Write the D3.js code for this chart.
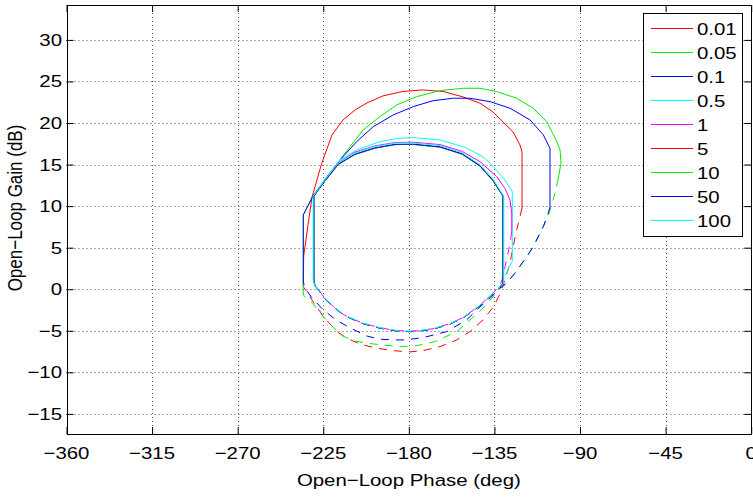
<!DOCTYPE html>
<html><head><meta charset="utf-8">
<script src="https://cdn.jsdelivr.net/npm/d3@7"></script>
<style>body{margin:0;background:#fff;overflow:hidden} text{font-family:"Liberation Sans",Arial,Helvetica,sans-serif;fill:#000}</style>
</head><body><svg id="c" width="753" height="497"></svg>
<script>
// ---------- data ----------
const legendLabels = ["0.01","0.05","0.1","0.5","1","5","10","50","100"];
const xTicks = [-360,-315,-270,-225,-180,-135,-90,-45,0];
const yTicks = [-15,-10,-5,0,5,10,15,20,25,30];
const xLabel = "Open\u2212Loop Phase (deg)";
const yLabel = "Open\u2212Loop Gain (dB)";

// each point: [phase (deg), gain (dB)]
const s001Solid = [[-235.5,0.3],[-235.3,4.0],[-233.0,7.74],[-230.9,11.1],[-225.8,15.16],[-220.4,18.57],[-214.6,20.37],[-208.3,21.57],[-202.0,22.42],[-193.6,23.26],[-183.1,23.8],[-172.6,23.98],[-162.1,23.8],[-151.5,23.14],[-142.6,22.38],[-135.8,21.33],[-130.5,20.13],[-125.2,18.93],[-121.6,17.36],[-120.5,16.52],[-120.5,9.78]];
const s001Dashed = [[-120.5,9.78],[-121.6,8.7],[-123.3,7.14],[-125.2,5.09],[-126.8,3.16],[-129.5,1.12],[-132.1,-0.6],[-135.8,-2.2],[-141.0,-3.69],[-147.9,-5.1],[-154.8,-6.1],[-163.6,-6.9],[-172.6,-7.39],[-179.4,-7.54],[-188.3,-7.39],[-196.8,-7.1],[-205.7,-6.6],[-212.5,-5.9],[-217.2,-5.2],[-223.0,-3.8],[-228.3,-2.2],[-232.0,-0.93],[-234.6,0.0],[-235.5,0.3]];

const s005Solid = [[-235.5,-0.7],[-235.5,8.94],[-230.4,11.23],[-224.1,13.15],[-216.2,15.56],[-210.9,17.16],[-204.0,19.17],[-195.2,20.77],[-186.4,22.18],[-175.9,23.17],[-163.6,23.9],[-151.4,24.18],[-142.6,24.18],[-133.8,23.78],[-123.3,22.98],[-114.6,21.78],[-107.5,20.17],[-102.6,17.96],[-100.5,16.76],[-100.0,15.16],[-101.4,13.36]];
const s005Dashed = [[-101.4,13.36],[-103.2,11.55],[-105.8,9.4],[-109.3,7.53],[-114.6,5.13],[-118.0,3.92],[-124.2,1.93],[-128.6,0.72],[-132.1,0.1],[-135.8,-0.9],[-141.0,-2.3],[-147.9,-3.69],[-154.8,-5.1],[-166.3,-6.3],[-175.2,-6.76],[-182.0,-6.9],[-192.0,-6.76],[-199.9,-6.55],[-209.6,-6.2],[-215.7,-5.5],[-221.5,-4.18],[-226.7,-2.85],[-230.2,-1.77],[-234.1,-0.99],[-235.5,-0.7]];

const s01Solid = [[-235.5,0.88],[-235.5,8.94],[-230.4,11.23],[-224.1,13.15],[-216.2,15.56],[-207.4,17.76],[-198.7,19.56],[-188.2,20.97],[-177.7,21.97],[-167.2,22.69],[-156.6,22.98],[-147.9,22.98],[-137.3,22.57],[-126.8,21.78],[-116.3,20.37],[-109.3,18.57],[-105.8,16.97],[-105.8,9.94]];
const s01Dashed = [[-105.8,9.94],[-106.7,9.14],[-109.3,7.53],[-114.6,5.13],[-118.0,3.92],[-124.2,1.93],[-128.6,0.72],[-132.1,0.16],[-137.3,-1.08],[-142.6,-2.13],[-149.6,-3.69],[-160.1,-5.1],[-172.4,-5.82],[-182.0,-6.1],[-186.4,-6.1],[-195.2,-6.02],[-202.2,-5.62],[-210.5,-4.69],[-218.4,-3.69],[-225.4,-2.39],[-231.1,-0.99],[-234.6,0.16],[-235.5,0.88]];

const s05Solid = [[-229.5,0.6],[-229.8,1.1],[-229.8,11.3],[-224.0,13.3],[-216.2,15.56],[-207.4,16.76],[-195.2,17.76],[-186.0,18.15],[-177.7,18.24],[-163.6,17.96],[-151.4,17.16],[-142.6,16.16],[-139.1,15.56],[-135.6,14.75],[-129.5,13.15],[-125.6,11.74],[-125.6,3.32],[-127.7,2.56]];
const s05Dashed = [[-127.7,2.56],[-130.3,0.9],[-132.1,0.3],[-137.3,-0.8],[-143.5,-2.1],[-151.5,-3.4],[-158.4,-4.15],[-167.3,-4.75],[-175.0,-5.0],[-180.0,-5.05],[-187.0,-4.95],[-195.0,-4.65],[-204.8,-4.05],[-214.0,-3.1],[-220.1,-2.0],[-224.1,-1.1],[-227.0,-0.2],[-229.5,0.6]];

const s1Solid = [[-229.6,0.5],[-230.0,1.1],[-230.0,11.2],[-224.1,13.2],[-217.1,15.25],[-208.3,16.5],[-197.8,17.25],[-187.3,17.65],[-177.8,17.69],[-163.6,17.4],[-152.1,16.6],[-142.6,15.35],[-133.8,13.55],[-129.5,12.15],[-126.8,10.74],[-125.9,9.14],[-125.9,6.89]];
const s1Dashed = [[-125.9,6.89],[-126.8,5.53],[-127.7,4.52],[-128.9,3.28],[-130.5,1.48],[-132.1,0.4],[-137.3,-0.8],[-143.5,-2.1],[-151.5,-3.4],[-158.4,-4.15],[-167.3,-4.75],[-175.0,-5.0],[-180.0,-5.05],[-187.0,-4.95],[-195.0,-4.65],[-204.8,-4.05],[-214.0,-3.1],[-220.1,-2.0],[-224.1,-1.1],[-227.0,-0.2],[-229.6,0.5]];

const s5Solid = [[-229.3,0.4],[-230.0,1.1],[-230.0,11.2],[-224.1,13.02],[-217.1,15.02],[-208.3,16.22],[-197.8,16.98],[-187.3,17.4],[-177.8,17.43],[-163.6,17.1],[-152.1,16.26],[-142.6,14.82],[-135.6,13.0],[-131.2,11.45],[-130.5,11.2],[-130.5,0.76]];
const s5Dashed = [[-130.5,0.76],[-132.1,0.25],[-137.3,-0.85],[-143.5,-2.15],[-151.5,-3.45],[-158.4,-4.2],[-167.3,-4.8],[-175.0,-5.05],[-180.0,-5.1],[-187.0,-5.0],[-195.0,-4.7],[-204.8,-4.1],[-214.0,-3.15],[-220.1,-2.05],[-224.1,-1.15],[-227.0,-0.25],[-229.3,0.4]];

const s10Solid = [[-229.3,0.4],[-230.0,1.1],[-230.0,11.2],[-224.1,13.02],[-217.1,15.02],[-208.3,16.22],[-197.8,16.98],[-187.3,17.4],[-177.8,17.43],[-163.6,17.1],[-152.1,16.26],[-142.6,14.82],[-135.6,13.0],[-131.2,11.45],[-130.5,11.2],[-130.5,0.76]];
const s10Dashed = [[-130.5,0.76],[-132.1,0.25],[-137.3,-0.85],[-143.5,-2.15],[-151.5,-3.45],[-158.4,-4.2],[-167.3,-4.8],[-175.0,-5.05],[-180.0,-5.1],[-187.0,-5.0],[-195.0,-4.7],[-204.8,-4.1],[-214.0,-3.15],[-220.1,-2.05],[-224.1,-1.15],[-227.0,-0.25],[-229.3,0.4]];

const s50Solid = [[-229.3,0.4],[-230.0,1.1],[-230.0,11.2],[-224.1,13.05],[-217.1,15.05],[-208.3,16.25],[-197.8,17.0],[-187.3,17.43],[-177.8,17.46],[-163.6,17.13],[-152.1,16.3],[-142.6,14.86],[-135.6,13.05],[-131.2,11.48],[-130.5,11.2],[-130.5,0.76]];
const s50Dashed = [[-130.5,0.76],[-132.1,0.25],[-137.3,-0.85],[-143.5,-2.15],[-151.5,-3.45],[-158.4,-4.2],[-167.3,-4.8],[-175.0,-5.05],[-180.0,-5.1],[-187.0,-5.0],[-195.0,-4.7],[-204.8,-4.1],[-214.0,-3.15],[-220.1,-2.05],[-224.1,-1.15],[-227.0,-0.25],[-229.3,0.4]];

const s100Solid = [[-229.3,0.4],[-230.3,1.1],[-230.3,11.2],[-224.1,13.17],[-217.1,15.2],[-208.3,16.4],[-197.8,17.16],[-187.3,17.58],[-177.8,17.6],[-163.6,17.28],[-152.1,16.44],[-142.6,15.0],[-135.6,13.2],[-131.2,11.58],[-130.1,11.2],[-130.1,0.76]];
const s100Dashed = [[-130.1,0.76],[-132.1,0.3],[-137.3,-0.8],[-143.5,-2.1],[-151.5,-3.4],[-158.4,-4.15],[-167.3,-4.75],[-175.0,-5.0],[-180.0,-5.05],[-187.0,-4.95],[-195.0,-4.65],[-204.8,-4.05],[-214.0,-3.1],[-220.1,-2.0],[-224.1,-1.1],[-227.0,-0.2],[-229.3,0.4]];

const solidData = [s001Solid,s005Solid,s01Solid,s05Solid,s1Solid,s5Solid,s10Solid,s50Solid,s100Solid];
const dashedData = [s001Dashed,s005Dashed,s01Dashed,s05Dashed,s1Dashed,s5Dashed,s10Dashed,s50Dashed,s100Dashed];
const seriesColors = ["#ff0000","#00ee00","#0000ff","#00ffff","#ff00ff","#ff0000","#00ee00","#0000ff","#00ffff"];

// ---------- layout ----------
const L = 66.5, R = 751.2, T = 5, B = 434;
const svg = d3.select("#c");
const x = d3.scaleLinear().domain([-360,0]).range([L,R]);
const y = d3.scaleLinear().domain([-17.42,34.2]).range([B,T]);
const fmt = d3.format("d");
const px = v => Math.round(v)+0.5;

// grid
const grid = svg.append("g").attr("stroke","#555").attr("stroke-width",1).attr("stroke-dasharray","1,3");
grid.selectAll(".gx").data(xTicks.slice(1,-1)).join("line")
  .attr("x1",d=>px(x(d))).attr("x2",d=>px(x(d))).attr("y1",T).attr("y2",B);
grid.selectAll(".gy").data(yTicks).join("line")
  .attr("y1",d=>px(y(d))).attr("y2",d=>px(y(d))).attr("x1",L).attr("x2",R);

// curves
const line = d3.line().x(d=>x(d[0])).y(d=>y(d[1]));
const curves = svg.append("g").attr("fill","none").attr("stroke-width",1);
solidData.forEach((s,i)=>{
  curves.append("path").attr("d",line(s)).attr("stroke",seriesColors[i]);
  curves.append("path").attr("d",line(dashedData[i])).attr("stroke",seriesColors[i]).attr("stroke-dasharray","8,7");
});

// axes ticks (inside) on all four sides
const tl = 7;
const axB = d3.axisBottom(x).tickValues(xTicks).tickSize(-tl).tickFormat("");
const axT = d3.axisTop(x).tickValues(xTicks).tickSize(-tl).tickFormat("");
const axL = d3.axisLeft(y).tickValues(yTicks).tickSize(-tl).tickFormat("");
const axR = d3.axisRight(y).tickValues(yTicks).tickSize(-tl).tickFormat("");
[[axB,`translate(0,${px(B)-0.5})`],[axT,`translate(0,${px(T)-0.5})`],[axL,`translate(${L},0)`],[axR,`translate(${R},0)`]].forEach(([a,t])=>{
  const g = svg.append("g").attr("transform",t).call(a);
  g.select(".domain").remove();
  g.selectAll(".tick line").attr("stroke","#000");
});
// box
svg.append("rect").attr("x",px(L)).attr("y",px(T)).attr("width",Math.round(R)-Math.round(L)).attr("height",Math.round(B)-Math.round(T))
  .attr("fill","none").attr("stroke","#000").attr("stroke-width",1);

// tick labels
const sx = 1.2, fs = 17;
svg.append("g").selectAll("text").data(xTicks).join("text")
  .attr("transform",d=>`translate(${x(d)},459) scale(${sx},1)`)
  .attr("text-anchor","middle").attr("font-size",fs).text(d=>fmt(d));
svg.append("g").selectAll("text").data(yTicks).join("text")
  .attr("transform",d=>`translate(62,${y(d)+6}) scale(${sx},1)`)
  .attr("text-anchor","end").attr("font-size",fs).text(d=>fmt(d));
// axis titles
svg.append("text").attr("transform",`translate(${(L+R)/2},486) scale(${sx},1)`)
  .attr("text-anchor","middle").attr("font-size",fs).text(xLabel);
svg.append("text").attr("transform",`translate(22,208) scale(${sx},1) rotate(-90)`)
  .attr("text-anchor","middle").attr("font-size",fs).text(yLabel);

// legend
const lg = svg.append("g");
lg.append("rect").attr("x",643.5).attr("y",13.5).attr("width",99).attr("height",223).attr("fill","#fff").attr("stroke","#000");
const rowY = d3.scaleLinear().domain([0,8]).range([28,220]);
legendLabels.forEach((lab,i)=>{
  const yy = Math.round(rowY(i))+0.5;
  lg.append("line").attr("x1",651).attr("x2",693).attr("y1",yy).attr("y2",yy)
    .attr("stroke",seriesColors[i]).attr("stroke-width",1);
  lg.append("text").attr("transform",`translate(697,${yy+6}) scale(${sx},1)`).attr("font-size",fs).text(lab);
});
</script>
</body></html>
